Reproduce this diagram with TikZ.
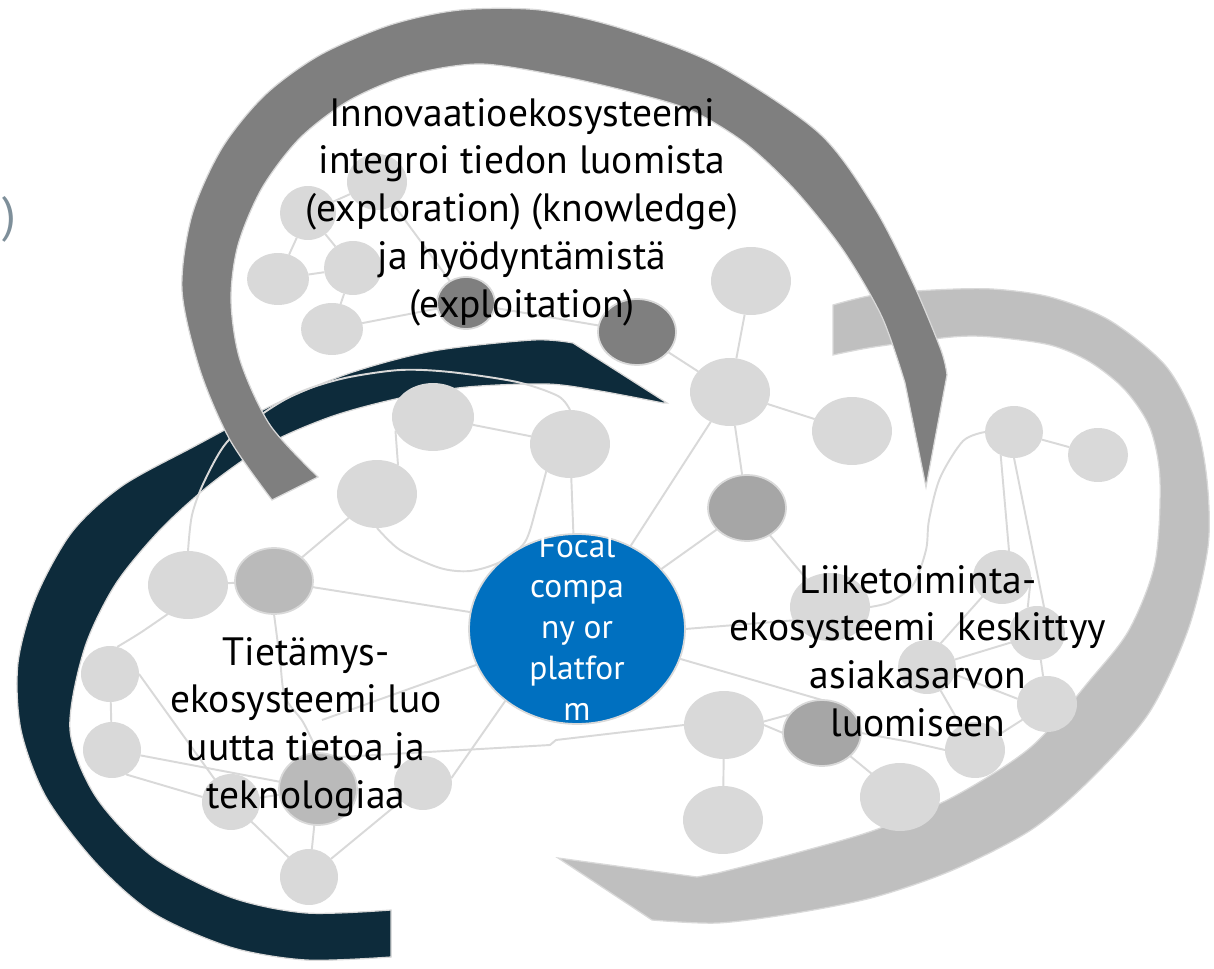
\documentclass[tikz,border=0pt]{standalone}
\usepackage{fontspec}
\setmainfont{PT Sans}
\usetikzlibrary{shapes.geometric}
\definecolor{navy}{RGB}{13,43,59}
\definecolor{lgray}{RGB}{217,217,217}
\definecolor{arcgray}{RGB}{191,191,191}
\definecolor{dgray}{RGB}{127,127,127}
\definecolor{mgray}{RGB}{166,166,166}
\definecolor{sgray}{RGB}{186,186,186}
\definecolor{focal}{RGB}{0,112,192}
\definecolor{parcol}{RGB}{126,143,154}
\pgfdeclarelayer{bg}
\pgfdeclarelayer{arcs}
\pgfdeclarelayer{edges}
\pgfdeclarelayer{top}
\pgfsetlayers{bg,arcs,edges,main,top}
\tikzset{
  nd/.style 2 args={ellipse, inner sep=0pt, outer sep=0pt, minimum width={0.04cm*#1}, minimum height={0.04cm*#2}},
  lt/.style 2 args={nd={#1}{#2}, fill=lgray},
  dk/.style 2 args={nd={#1}{#2}, fill=dgray, draw=lgray, line width=1pt},
  md/.style 2 args={nd={#1}{#2}, fill=mgray, draw=lgray, line width=1pt},
  sm/.style 2 args={nd={#1}{#2}, fill=sgray, draw=lgray, line width=1pt},
  link/.style={draw=lgray, line width=1.1pt},
  txt/.style={align=center, font=\fontsize{22.5}{27.2}\selectfont, text=black, inner sep=0pt},
  band/.style={draw=lgray, line width=0.7pt}
}
\begin{document}
\begin{tikzpicture}[x=0.02cm, y=-0.02cm]
\useasboundingbox (0,0) rectangle (1214,969);
\begin{pgfonlayer}{bg}
\fill[white] (0,0) rectangle (1214,969);
\end{pgfonlayer}

% ---------- circles ----------
\node[lt={30}{28}] (Ca) at (377,182) {};
\node[lt={28}{27}] (Cb) at (308,213) {};
\node[lt={31}{26}] (Cc) at (278,279) {};
\node[lt={29}{27}] (Cd) at (353,268) {};
\node[lt={31}{26}] (Ce) at (332,329) {};
\node[dk={29}{26}] (Cf) at (466,303) {};
\node[dk={39}{33}] (Cg) at (637,332) {};
\node[lt={40}{34}] (Ch) at (730,392) {};
\node[lt={40}{34}] (Ci) at (751,281) {};
\node[lt={40}{34}] (Cj) at (852,431) {};
\node[md={39}{33}] (Ck) at (747,508) {};
\node[lt={40}{34}] (Cl) at (830,607) {};
\node[md={39}{33}] (Cn) at (822,733) {};
\node[lt={40}{34}] (Co) at (724,725) {};
\node[lt={40}{34}] (Cp) at (723,820) {};
\node[lt={40}{34}] (Cq) at (900,797) {};
\node[lt={40}{34}] (Cr) at (377,494) {};
\node[lt={41}{34}] (Cu) at (433,417) {};
\node[lt={40}{34}] (Cv) at (570,444) {};
\node[lt={40}{34}] (Cw) at (188,585) {};
\node[sm={39}{33}] (Cx) at (274,581) {};
\node[lt={29}{28}] (Cy) at (110,674) {};
\node[lt={29}{28}] (Cz) at (112,750) {};
\node[lt={29}{28}] (Caa) at (231,802) {};
\node[sm={39}{36}] (Ct) at (318,789) {};
\node[lt={29}{27}] (Cs) at (423,783) {};
\node[lt={29}{28}] (Cbb) at (309,877) {};
\node[lt={29}{26}] (Ccc) at (1014,432) {};
\node[lt={30}{27}] (Cdd) at (1098,455) {};
\node[lt={29}{27}] (Cee) at (1002,577) {};
\node[lt={28}{27}] (Cff) at (1037,633) {};
\node[lt={29}{27}] (Cgg) at (927,667) {};
\node[lt={30}{28}] (Chh) at (1047,704) {};
\node[lt={30}{28}] (Cii) at (975,750) {};
\node[ellipse, fill=focal, draw=lgray, line width=1pt, inner sep=0pt, outer sep=0pt,
      minimum width=4.32cm, minimum height=3.8cm] (F) at (577,629) {};
\coordinate (fe) at (322,720);

% ---------- arcs ----------
\begin{pgfonlayer}{arcs}
\fill[navy, band] plot[smooth] coordinates {(391,957) (306,960) (230,947) (153,913) (96,863) (46,797) (21,730) (18,663) (36,597) (72,532) (122,486) (195,446) (273,405) (350,373) (433,351) (533,340) (573,343)}
  -- (667,403)
  -- plot[smooth] coordinates {(663,403) (600,391) (547,384) (467,387) (400,398) (333,416) (270,443) (212,483) (160,530) (115,585) (84,650) (70,730) (96,797) (153,857) (230,897) (306,913) (391,910)}
  -- cycle;
\fill[arcgray, band] plot[smooth] coordinates {(833,305) (874,295) (933,290) (992,289) (1050,297) (1109,320) (1165,365) (1195,420) (1207,480) (1208,547) (1188,630) (1149,713) (1090,780) (1031,830) (953,870) (875,897) (796,913) (718,923) (652,920)}
  -- (558,858) -- (697,877)
  -- plot[smooth] coordinates {(718,873) (796,853) (875,830) (953,797) (1031,747) (1090,680) (1129,630) (1155,563) (1160,480) (1150,428) (1125,390) (1090,362) (1050,345) (992,337) (952,337) (874,347) (833,355)}
  -- cycle;
\end{pgfonlayer}

% ---------- edges ----------
\begin{pgfonlayer}{edges}
\draw[link] (Ca) -- (Cb);
\draw[link] (Cb) -- (Cc);
\draw[link] (Cb) -- (Cd);
\draw[link] (Cc) -- (Cd);
\draw[link] (Cd) -- (Ce);
\draw[link] (Ca) -- (Cf);
\draw[link] (Ce) -- (Cf);
\draw[link] (Cf) -- (Cg);
\draw[link] (Cg) -- (Ch);
\draw[link] (Ci) -- (Ch);
\draw[link] (Ch) -- (Cj);
\draw[link] (Ch) -- (Ck);
\draw[link] (Ch) -- (F);
\draw[link] (Ck) -- (F);
\draw[link] (Ck) -- (Cl);
\draw[link] (F.east) -- (Cl.200);
\draw[link] (F) -- (Cn.north);
\draw[link] (Co.5) -- (Cn.150);
\draw[link] (Co.east) -- (Cn.west);
\draw[link] (Co) -- (Cp);
\draw[link] (Cn) -- (Cq);
\draw[link] (Cn.east) -- (910,742) -- (Cii.west);
\draw[link] (Ct.60) -- (550,745) -- (556,740) -- (Co.west);
\draw[link] (Cu) -- (Cv);
\draw[link] (Cu.200) -- (Cr.54);
\draw[link] (Cv) -- (F);
\draw[link] plot[smooth] coordinates {(Cr.south) (400,550) (440,568) (470,571) (500,562) (525,542) (537,505) (Cv.229)};
\draw[link] plot[smooth] coordinates {(Cw.north) (192,515) (204,482) (227,442) (265,412) (300,392) (345,378) (400,370) (450,372) (517,382) (558,396) (Cv.north)};
\draw[link] (Cw) -- (Cx);
\draw[link] (Cx) -- (Cr);
\draw[link] (Cx) -- (F);
\draw[link] plot[smooth] coordinates {(Cw.235) (140,633) (Cy.75)};
\draw[link] (Cy) -- (Cz);
\draw[link] (Cz) -- (Ct);
\draw[link] (Cz.300) -- (Caa.170);
\draw[link] (Cy.east) -- (Caa.center);
\draw[link] (Caa) -- (Ct);
\draw[link] plot[smooth] coordinates {(Cx.south) (280,660) (285,697) (303,722) (Ct.north)};
\draw[link] (F) -- (fe);
\draw[link] (F.225) -- (Cs.10);
\draw[link] (Cs) -- (Cbb);
\draw[link] (Caa) -- (Cbb);
\draw[link] (Ct) -- (Cbb);
\draw[link] (Ccc) -- (Cdd);
\draw[link] (Ccc.240) -- (Cee.75);
\draw[link] (Ccc.south) -- (Cff.75);
\draw[link] plot[smooth] coordinates {(Ccc.west) (963,441) (940,478) (929,520) (926,550) (913,585) (890,602) (Cl.east)};
\draw[link] (Cee.east) -- (Cff.110);
\draw[link] (Cee.225) -- (Cgg.60);
\draw[link] (Cgg.15) -- (Cff.200);
\draw[link] (Cff) -- (Chh);
\draw[link] (Cgg.-15) -- (Chh.170);
\draw[link] (Cgg) -- (Cii);
\draw[link] (Chh) -- (Cii);
\end{pgfonlayer}

% ---------- top arc and texts ----------
\begin{pgfonlayer}{top}
\fill[dgray, band] plot[smooth] coordinates {(272,500) (230,440) (200,370) (182,290) (192,215) (222,148) (265,95) (320,55) (390,25) (460,10) (540,10) (620,28) (717,65) (819,133) (874,207) (913,283) (941,350) (947,375)}
  -- (926,487)
  -- plot[smooth] coordinates {(905,383) (882,317) (843,250) (795,190) (745,143) (690,110) (630,92) (560,76) (480,64) (410,75) (350,100) (300,138) (262,188) (238,245) (231,300) (240,360) (270,425) (318,477)}
  -- cycle;
\node[txt] (T1) at (522,212) {Innovaatioekosysteemi\\integroi tiedon luomista\\(exploration) (knowledge)\\ja hyödyntämistä\\(exploitation)};
\node[txt] (T2) at (306,727) {Tietämys-\\ekosysteemi luo\\uutta tietoa ja\\teknologiaa};
\node[txt] (T3) at (918,651) {Liiketoiminta-\\ekosysteemi\ \ keskittyy\\asiakasarvon\\luomiseen};
\node[txt, text=white, font=\fontsize{19}{23.2}\selectfont] (T4) at (577,627) {Focal\\compa\\ny or\\platfor\\m};
\node[text=parcol, font=\fontsize{28}{30}\selectfont, anchor=east, inner sep=0pt] (T5) at (17,219) {n)};
\end{pgfonlayer}
\end{tikzpicture}
\end{document}
